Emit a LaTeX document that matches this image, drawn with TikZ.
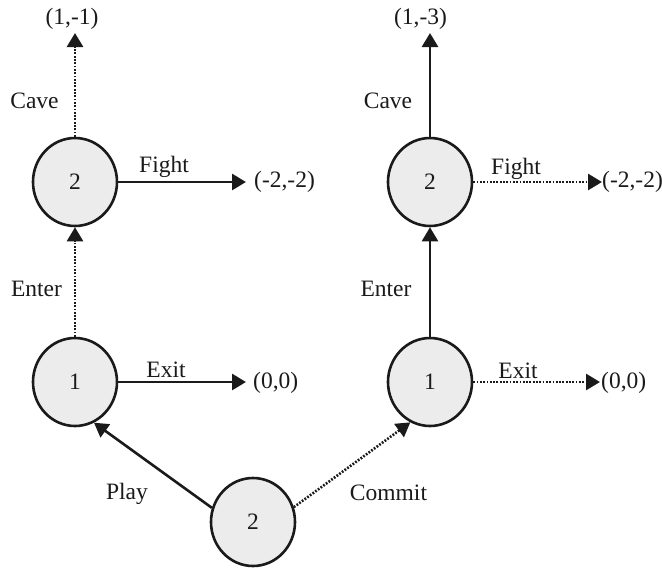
\documentclass[tikz,border=0pt]{standalone}
\usepackage{fontspec}
\setmainfont{Liberation Serif}
\usetikzlibrary{arrows.meta,shapes.geometric}
\definecolor{nodegray}{HTML}{ECECEC}
\definecolor{ink}{HTML}{1A1A1A}
\tikzset{
  st/.style={ellipse, draw=ink, fill=nodegray, line width=2.6pt, minimum width=84pt, minimum height=88pt, inner sep=0pt, text=ink},
  pay/.style={inner sep=0pt, text=ink},
  lab/.style={inner sep=0pt, text=ink, anchor=base},
  solarr/.style={draw=ink, line width=2.6pt, -{Triangle[length=14pt,width=16pt]}},
  dotarr/.style={draw=ink, line width=2.6pt, dash pattern=on 1.8pt off 1.5pt, -{Triangle[length=14pt,width=16pt]}}
}
\begin{document}
\begin{tikzpicture}[x=1pt,y=-1pt, every node/.append style={font=\fontsize{23.5}{28}\selectfont}]
\useasboundingbox (0,0) rectangle (662,570);
% decision nodes
\node[st] (L2) at (75,182) {2};
\node[st] (L1) at (75,382) {1};
\node[st] (B)  at (253,522) {2};
\node[st] (R2) at (430,182) {2};
\node[st] (R1) at (430,382) {1};
% payoffs
\node[pay, anchor=south] (pL2c) at (72,30) {(1,-1)};
\node[pay, anchor=west]  (pL2f) at (254,182) {(-2,-2)};
\node[pay, anchor=west]  (pL1e) at (253,383) {(0,0)};
\node[pay, anchor=south] (pR2c) at (420.5,30) {(1,-3)};
\node[pay, anchor=west]  (pR2f) at (602,182) {(-2,-2)};
\node[pay, anchor=west]  (pR1e) at (601,383) {(0,0)};
% connectors
\draw[dotarr, shorten >=3pt] (L2.north) -- (L2.north |- pL2c.south);
\draw[solarr, shorten >=8pt] (L2.east) -- (L2.east -| pL2f.west);
\draw[dotarr] (L1) -- (L2);
\draw[solarr, shorten >=7pt] (L1.east) -- (L1.east -| pL1e.west);
\draw[solarr] (B.161) -- (L1.295);
\draw[dotarr] (B.20) -- (R1.244);
\draw[solarr] (R1) -- (R2);
\draw[solarr, shorten >=3pt] (R2.north) -- (R2.north |- pR2c.south);
\draw[dotarr, shorten >=0pt] (R2.east) -- (R2.east -| pR2f.west);
\draw[dotarr, shorten >=1pt] (R1.east) -- (R1.east -| pR1e.west);
% labels
\node[lab] (tCaveL)  at (34.5,108) {Cave};
\node[lab] (tFightL) at (164,172) {Fight};
\node[lab] (tEnterL) at (36.5,296) {Enter};
\node[lab] (tExitL)  at (166,377) {Exit};
\node[lab] (tPlay)   at (127,499) {Play};
\node[lab] (tCommit) at (388.5,500) {Commit};
\node[lab] (tEnterR) at (386,296) {Enter};
\node[lab] (tCaveR)  at (388,108) {Cave};
\node[lab] (tFightR) at (516,174) {Fight};
\node[lab] (tExitR)  at (518,378) {Exit};
\end{tikzpicture}
\end{document}
